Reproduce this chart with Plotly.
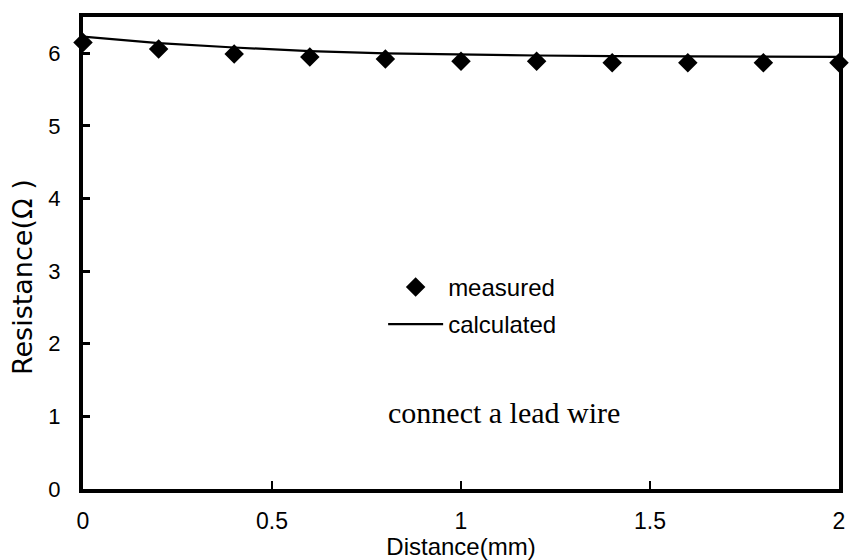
import plotly.graph_objects as go

# Distance along the sample (mm)
distance = [0, 0.2, 0.4, 0.6, 0.8, 1.0, 1.2, 1.4, 1.6, 1.8, 2.0]
# Measured resistance (ohm)
measured = [6.15, 6.06, 5.99, 5.95, 5.92, 5.89, 5.89, 5.87, 5.87, 5.87, 5.87]
# Calculated resistance (ohm)
calculated = [6.23, 6.14, 6.08, 6.03, 6.00, 5.98, 5.97, 5.96, 5.96, 5.95, 5.95]

x_ticks = [0, 0.5, 1, 1.5, 2]
x_tick_text = ["0", "0.5", "1", "1.5", "2"]
y_ticks = [0, 1, 2, 3, 4, 5, 6]

sans = "Liberation Sans, Arial, sans-serif"

fig = go.Figure()
fig.add_trace(go.Scatter(
    x=distance, y=measured, mode="markers", name="measured",
    marker=dict(symbol="diamond", size=15, color="black"),
    cliponaxis=False, legendgroup="a",
))
fig.add_trace(go.Scatter(
    x=distance, y=calculated, mode="lines", name="calculated",
    line=dict(color="black", width=2.2),
    cliponaxis=False, legendgroup="b",
))

fig.update_layout(
    width=853, height=560,
    margin=dict(l=83, r=8, t=17, b=70),
    paper_bgcolor="white", plot_bgcolor="white",
    font=dict(family=sans, size=22, color="black"),
    showlegend=True,
    legend=dict(
        x=0.397, y=0.475, xanchor="left", yanchor="top",
        bgcolor="rgba(0,0,0,0)", itemwidth=55, tracegroupgap=3,
        font=dict(family=sans, size=24, color="black"),
    ),
    xaxis=dict(
        range=[0, 2], tickvals=x_ticks, ticktext=x_tick_text,
        showgrid=False, zeroline=False,
        showline=True, linecolor="black", linewidth=4, mirror=True,
        ticks="inside", ticklen=8, tickwidth=2, tickcolor="black",
        tickfont=dict(family=sans, size=23), ticklabelstandoff=8,
        title=dict(text="Distance(mm)", font=dict(family=sans, size=24), standoff=2),
    ),
    yaxis=dict(
        range=[0, 6.5], tickvals=y_ticks,
        showgrid=False, zeroline=False,
        showline=True, linecolor="black", linewidth=4, mirror=True,
        ticks="inside", ticklen=7, tickwidth=3, tickcolor="black",
        tickfont=dict(family=sans, size=22), ticklabelstandoff=14,
    ),
    annotations=[
        dict(
            x=1.113, y=1.05, xref="x", yref="y", text="connect a lead wire",
            showarrow=False, xanchor="center", yanchor="middle",
            font=dict(family="Liberation Serif, Times New Roman, serif", size=30, color="black"),
        ),
        dict(
            x=(22 - 83) / 762, y=0.45, xref="paper", yref="paper", text="Resistance(Ω )",
            showarrow=False, textangle=-90, xanchor="center", yanchor="middle",
            font=dict(family="DejaVu Sans, sans-serif", size=27, color="black"),
        ),
    ],
)

fig.write_html("out.html")
